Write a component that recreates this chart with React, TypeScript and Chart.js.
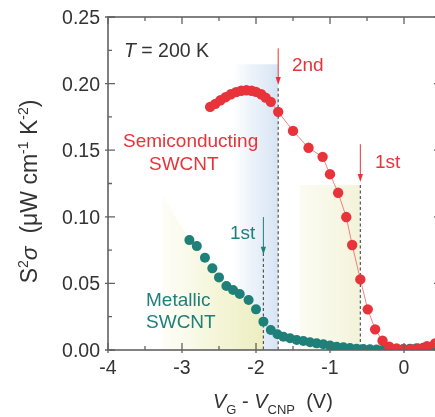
import React, { useEffect, useRef } from "react";
import { Chart, registerables } from "chart.js";

Chart.register(...registerables);

// ---------- data ----------
const semiV = [-2.62, -2.55, -2.48, -2.41, -2.34, -2.27, -2.2, -2.13, -2.06, -2.0, -1.93, -1.87, -1.8, -1.7, -1.5, -1.29, -1.1, -1.0, -0.89, -0.78, -0.7, -0.59, -0.49, -0.39, -0.29, -0.2, -0.1, 0.0, 0.1, 0.2, 0.31, 0.42];
const semiS = [0.1825, 0.1848, 0.1875, 0.1898, 0.192, 0.1936, 0.1946, 0.195, 0.1946, 0.1938, 0.192, 0.1895, 0.1863, 0.1788, 0.1645, 0.1518, 0.145, 0.132, 0.118, 0.0998, 0.0788, 0.053, 0.0305, 0.0155, 0.007, 0.0025, 0.0012, 0.0006, 0.0006, 0.001, 0.0028, 0.005];

const metV = [-2.9, -2.8, -2.69, -2.59, -2.5, -2.4, -2.31, -2.22, -2.1, -2.0, -1.9, -1.8, -1.71, -1.63, -1.54, -1.45, -1.36, -1.27, -1.18, -1.09, -1.0, -0.91, -0.82, -0.73, -0.64, -0.55, -0.46, -0.37, -0.28, -0.19, -0.1, -0.01, 0.08, 0.17, 0.26, 0.35, 0.44];
const metS = [0.0825, 0.078, 0.0693, 0.0613, 0.0545, 0.048, 0.045, 0.042, 0.0375, 0.0305, 0.0213, 0.015, 0.0118, 0.01, 0.0088, 0.0075, 0.0068, 0.0058, 0.005, 0.0043, 0.0033, 0.0025, 0.002, 0.0015, 0.001, 0.0007, 0.0005, 0.0004, 0.0004, 0.0005, 0.0006, 0.0008, 0.001, 0.0013, 0.0017, 0.0021, 0.0025];

const xMajor = [-4, -3, -2, -1, 0];
const xMajorLabels = ["-4", "-3", "-2", "-1", "0"];
const xMinor = [-3.5, -2.5, -1.5, -0.5];
const yMajor = [0, 0.05, 0.1, 0.15, 0.2, 0.25];
const yMajorLabels = ["0.00", "0.05", "0.10", "0.15", "0.20", "0.25"];
const yMinor = [0.025, 0.075, 0.125, 0.175, 0.225];

const X_MIN = -4;
const X_MAX = 0.5;
const Y_MIN = 0;
const Y_MAX = 0.25;

// annotation anchors (data units)
const secondV = -1.7;
const firstSemiV = -0.59;
const firstMetV = -1.9;
const blueBand = [-2.31, -1.7, 0.2145];
const yellowBand = [-1.41, -0.59, 0.1238];
const metShadeStart = [-3.26, 0.116];

// ---------- style ----------
const RED = "#e8333b";
const TEAL = "#1f7f79";
const AXIS = "#626262";
const TXT = "#333333";
const FONT = '"Liberation Sans", Arial, Helvetica, sans-serif';

type Seg = { t: string; size: number; it?: boolean; dy?: number };

function richWidth(ctx: CanvasRenderingContext2D, segs: Seg[]) {
  let w = 0;
  for (const s of segs) {
    ctx.font = `${s.it ? "italic " : ""}${s.size}px ${FONT}`;
    w += ctx.measureText(s.t).width;
  }
  return w;
}
function drawRich(ctx: CanvasRenderingContext2D, segs: Seg[], x: number, y: number) {
  let cx = x;
  for (const s of segs) {
    ctx.font = `${s.it ? "italic " : ""}${s.size}px ${FONT}`;
    ctx.fillText(s.t, cx, y + (s.dy || 0));
    cx += ctx.measureText(s.t).width;
  }
}

function arrow(ctx: CanvasRenderingContext2D, x: number, y1: number, y2: number, color: string) {
  ctx.save();
  ctx.strokeStyle = color;
  ctx.fillStyle = color;
  ctx.lineWidth = 1;
  ctx.beginPath();
  ctx.moveTo(x, y1);
  ctx.lineTo(x, y2 - 5);
  ctx.stroke();
  ctx.beginPath();
  ctx.moveTo(x - 2.6, y2 - 8);
  ctx.lineTo(x + 2.6, y2 - 8);
  ctx.lineTo(x, y2);
  ctx.closePath();
  ctx.fill();
  ctx.restore();
}

function dashed(ctx: CanvasRenderingContext2D, x: number, y1: number, y2: number) {
  ctx.save();
  ctx.strokeStyle = "#555";
  ctx.lineWidth = 1.2;
  ctx.setLineDash([3, 2.5]);
  ctx.beginPath();
  ctx.moveTo(x, y1);
  ctx.lineTo(x, y2);
  ctx.stroke();
  ctx.restore();
}

const decorPlugin = {
  id: "decor",
  beforeDatasetsDraw(chart: any) {
    const { ctx, scales } = chart;
    const x = scales.x;
    const y = scales.y;
    const px = (v: number) => x.getPixelForValue(v);
    const py = (v: number) => y.getPixelForValue(v);
    ctx.save();
    // blue band
    {
      const x0 = px(blueBand[0]);
      const x1 = px(blueBand[1]);
      const g = ctx.createLinearGradient(x0, 0, x1, 0);
      g.addColorStop(0, "rgba(230,239,249,0)");
      g.addColorStop(0.4, "rgba(228,237,248,0.7)");
      g.addColorStop(1, "rgba(214,228,243,1)");
      ctx.fillStyle = g;
      ctx.fillRect(x0, py(blueBand[2]), x1 - x0, py(0) - py(blueBand[2]));
    }
    // yellow band (semiconducting 1st)
    {
      const x0 = px(yellowBand[0]);
      const x1 = px(yellowBand[1]);
      const g = ctx.createLinearGradient(x0, 0, x1, 0);
      g.addColorStop(0, "rgba(248,248,232,0.6)");
      g.addColorStop(1, "rgba(243,243,218,1)");
      ctx.fillStyle = g;
      ctx.fillRect(x0, py(yellowBand[2]), x1 - x0, py(0) - py(yellowBand[2]));
    }
    // metallic shade
    {
      const x0 = px(metShadeStart[0]);
      const x1 = px(firstMetV);
      const g = ctx.createLinearGradient(x0, 0, x1, 0);
      g.addColorStop(0, "rgba(248,248,228,0.3)");
      g.addColorStop(0.5, "rgba(244,245,214,0.9)");
      g.addColorStop(1, "rgba(236,238,192,1)");
      ctx.fillStyle = g;
      ctx.beginPath();
      ctx.moveTo(x0, py(metShadeStart[1]));
      for (let i = 0; i < metV.length; i++) {
        if (metV[i] <= firstMetV + 1e-6) ctx.lineTo(px(metV[i]), py(metS[i]));
      }
      ctx.lineTo(x1, py(0));
      ctx.lineTo(x0, py(0));
      ctx.closePath();
      ctx.fill();
    }
    // dashed guide lines
    dashed(ctx, px(secondV), py(0.1965), py(0));
    dashed(ctx, px(firstSemiV), py(yellowBand[2]), py(0));
    dashed(ctx, px(firstMetV), py(0.0728), py(0));
    ctx.restore();
  },
  afterDatasetsDraw(chart: any) {
    const { ctx, chartArea: a, scales } = chart;
    const x = scales.x;
    const y = scales.y;
    const px = (v: number) => x.getPixelForValue(v);
    const py = (v: number) => y.getPixelForValue(v);
    ctx.save();
    // frame
    ctx.strokeStyle = AXIS;
    ctx.lineWidth = 1.6;
    ctx.strokeRect(a.left, a.top, a.right - a.left, a.bottom - a.top);
    ctx.lineWidth = 1.3;
    ctx.beginPath();
    for (const v of xMajor) {
      const p = px(v);
      ctx.moveTo(p, a.bottom + 3);
      ctx.lineTo(p, a.bottom - 7);
      ctx.moveTo(p, a.top);
      ctx.lineTo(p, a.top + 7);
    }
    for (const v of xMinor) {
      const p = px(v);
      ctx.moveTo(p, a.bottom);
      ctx.lineTo(p, a.bottom - 4);
      ctx.moveTo(p, a.top);
      ctx.lineTo(p, a.top + 4);
    }
    for (const v of yMajor) {
      const p = py(v);
      ctx.moveTo(a.left - 3, p);
      ctx.lineTo(a.left + 7, p);
      ctx.moveTo(a.right, p);
      ctx.lineTo(a.right - 7, p);
    }
    for (const v of yMinor) {
      const p = py(v);
      ctx.moveTo(a.left, p);
      ctx.lineTo(a.left + 4, p);
      ctx.moveTo(a.right, p);
      ctx.lineTo(a.right - 4, p);
    }
    ctx.stroke();

    // tick labels
    ctx.fillStyle = TXT;
    ctx.font = `19.5px ${FONT}`;
    ctx.textBaseline = "alphabetic";
    ctx.textAlign = "center";
    xMajor.forEach((v, i) => ctx.fillText(xMajorLabels[i], px(v), a.bottom + 24));
    ctx.textAlign = "right";
    yMajor.forEach((v, i) => ctx.fillText(yMajorLabels[i], a.left - 8, py(v) + 7));
    ctx.textAlign = "left";

    // x title
    drawRich(ctx, [
      { t: "V", size: 20, it: true },
      { t: "G", size: 13, dy: 6 },
      { t: " - ", size: 20 },
      { t: "V", size: 20, it: true },
      { t: "CNP", size: 13, dy: 6 },
      { t: "  (V)", size: 20 },
    ], 213, 408);

    // y title
    const ySegs: Seg[] = [
      { t: "S", size: 23 },
      { t: "2", size: 14, dy: -9 },
      { t: "\u03c3", size: 23, it: true },
      { t: "  (\u03bcW cm", size: 23 },
      { t: "-1", size: 14, dy: -9 },
      { t: " K", size: 23 },
      { t: "-2", size: 14, dy: -9 },
      { t: ")", size: 23 },
    ];
    ctx.save();
    ctx.translate(36.5, 191.5);
    ctx.rotate(-Math.PI / 2);
    const w = richWidth(ctx, ySegs);
    drawRich(ctx, ySegs, -w / 2, 0);
    ctx.restore();

    // annotations
    drawRich(ctx, [
      { t: "T", size: 19.5, it: true },
      { t: " = 200 K", size: 19.5 },
    ], px(-3.784), py(0.2198));

    ctx.fillStyle = RED;
    ctx.font = `19px ${FONT}`;
    ctx.fillText("2nd", px(-1.514), py(0.2096));
    ctx.fillText("Semiconducting", px(-3.797), py(0.1523));
    ctx.fillText("SWCNT", px(-3.446), py(0.135));
    ctx.fillText("1st", px(-0.392), py(0.1365));
    ctx.fillStyle = TEAL;
    ctx.fillText("1st", px(-2.351), py(0.0833));
    ctx.fillText("Metallic", px(-3.486), py(0.033));
    ctx.fillText("SWCNT", px(-3.486), py(0.0165));

    arrow(ctx, px(secondV), py(0.2265), py(0.199), RED);
    arrow(ctx, px(firstSemiV), py(0.1545), py(0.1262), RED);
    arrow(ctx, px(firstMetV), py(0.0998), py(0.0715), TEAL);
    ctx.restore();
  },
};

export default function App() {
  const ref = useRef<HTMLCanvasElement | null>(null);
  useEffect(() => {
    if (!ref.current) return;
    const chart = new Chart(ref.current, {
      type: "scatter",
      data: {
        datasets: [
          {
            label: "Semiconducting SWCNT",
            data: semiV.map((v, i) => ({ x: v, y: semiS[i] })),
            showLine: true,
            borderColor: "rgba(232,51,59,0.6)",
            borderWidth: 1,
            backgroundColor: RED,
            pointBackgroundColor: RED,
            pointBorderWidth: 0,
            pointRadius: 5.2,
          },
          {
            label: "Metallic SWCNT",
            data: metV.map((v, i) => ({ x: v, y: metS[i] })),
            showLine: false,
            backgroundColor: TEAL,
            pointBackgroundColor: TEAL,
            pointBorderWidth: 0,
            pointRadius: 5,
          },
        ],
      },
      options: {
        animation: false,
        responsive: false,
        events: [],
        layout: { padding: { left: 108, top: 17, right: 9, bottom: 67 } },
        plugins: { legend: { display: false }, tooltip: { enabled: false } },
        scales: {
          x: { type: "linear", min: X_MIN, max: X_MAX, display: false },
          y: { type: "linear", min: Y_MIN, max: Y_MAX, display: false },
        },
      },
      plugins: [decorPlugin],
    });
    return () => chart.destroy();
  }, []);
  return (
    <div style={{ position: "fixed", left: 0, top: 0, width: 435, height: 417, overflow: "hidden", background: "#fff" }}>
      <canvas ref={ref} width={450} height={417} style={{ display: "block" }} />
    </div>
  );
}
